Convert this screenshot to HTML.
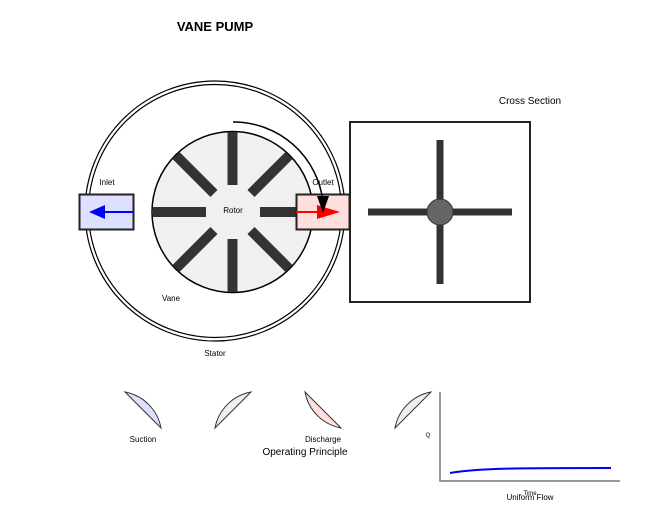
<!DOCTYPE html>
<html><head><style>body{margin:0;background:#fff}svg{display:block}</style></head><body>
<svg width="663" height="517" viewBox="0 0 663 517" xmlns="http://www.w3.org/2000/svg" font-family="Liberation Sans, sans-serif">
<text x="215" y="31" font-size="13" font-weight="bold" text-anchor="middle">VANE PUMP</text>
<circle cx="215" cy="211" r="130" fill="none" stroke="#000" stroke-width="1.2"/>
<circle cx="215" cy="211" r="126.5" fill="none" stroke="#000" stroke-width="1.2"/>
<circle cx="232.5" cy="212" r="80.5" fill="#f0f0f0" stroke="#000" stroke-width="1.5"/>
<g stroke="#333" stroke-width="10">
<line x1="232.5" y1="132" x2="232.5" y2="185"/>
<line x1="232.5" y1="239" x2="232.5" y2="292"/>
<line x1="153" y1="212" x2="206" y2="212"/>
<line x1="260" y1="212" x2="300" y2="212"/>
<line x1="176" y1="155.5" x2="214" y2="193.5"/>
<line x1="289" y1="155.5" x2="251" y2="193.5"/>
<line x1="176" y1="268.5" x2="214" y2="230.5"/>
<line x1="289" y1="268.5" x2="251" y2="230.5"/>
</g>
<text x="233" y="213" font-size="8" text-anchor="middle">Rotor</text>
<rect x="79.5" y="194.5" width="54" height="35" fill="#dde0ff" stroke="#222" stroke-width="2"/>
<line x1="133" y1="212" x2="104" y2="212" stroke="#00f" stroke-width="2"/>
<polygon points="89,212 105,205 105,219" fill="#00f"/>
<rect x="296.5" y="194.5" width="53" height="35" fill="#ffdede" stroke="#222" stroke-width="2"/>
<line x1="296" y1="212" x2="325" y2="212" stroke="#f00" stroke-width="2"/>
<polygon points="340,212 317,205 317,219" fill="#f00"/>
<path d="M233,122 A90,90 0 0 1 323,202" fill="none" stroke="#000" stroke-width="1.5"/>
<polygon points="317,196 329,196 323,213" fill="#000"/>
<text x="107" y="185" font-size="8" text-anchor="middle">Inlet</text>
<text x="323" y="185" font-size="8" text-anchor="middle">Outlet</text>
<text x="171" y="301" font-size="8" text-anchor="middle">Vane</text>
<text x="215" y="356" font-size="8" text-anchor="middle">Stator</text>
<text x="530" y="104" font-size="10" text-anchor="middle">Cross Section</text>
<rect x="350" y="122" width="180" height="180" fill="#fff" stroke="#222" stroke-width="2"/>
<line x1="368" y1="212" x2="512" y2="212" stroke="#333" stroke-width="7"/>
<line x1="440" y1="140" x2="440" y2="284" stroke="#333" stroke-width="7"/>
<circle cx="440" cy="212" r="13" fill="#666" stroke="#333"/>
<path d="M125,392 L161,428 A45,45 0 0 0 125,392 Z" fill="#dde0ff" stroke="#333"/>
<path d="M215,428 L251,392 A45,45 0 0 0 215,428 Z" fill="#eee" stroke="#333"/>
<path d="M305,392 L341,428 A45,45 0 0 1 305,392 Z" fill="#ffdede" stroke="#333"/>
<path d="M395,428 L431,392 A45,45 0 0 0 395,428 Z" fill="#eee" stroke="#333"/>
<text x="143" y="442" font-size="8" text-anchor="middle">Suction</text>
<text x="323" y="442" font-size="8" text-anchor="middle">Discharge</text>
<text x="305" y="455" font-size="10" text-anchor="middle">Operating Principle</text>
<polyline points="440,392 440,481 620,481" fill="none" stroke="#777" stroke-width="1.5"/>
<text x="428" y="437" font-size="6" text-anchor="middle">Q</text>
<path d="M450,473 C480,468 520,468 611,468" fill="none" stroke="#00f" stroke-width="2"/>
<text x="530" y="495" font-size="6" text-anchor="middle">Time</text>
<text x="530" y="500" font-size="8" text-anchor="middle">Uniform Flow</text>
</svg>
</body></html>
